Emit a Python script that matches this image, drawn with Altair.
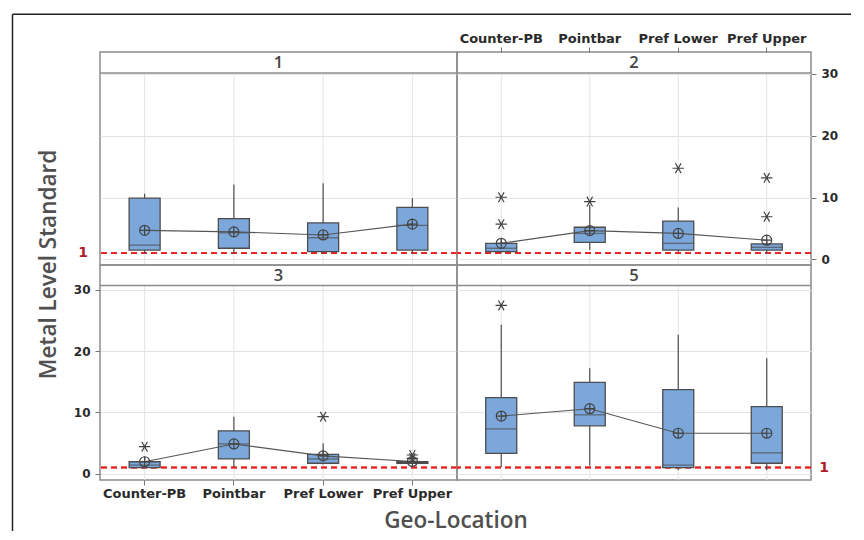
import altair as alt
import pandas as pd

categories = ["Counter-PB", "Pointbar", "Pref Lower", "Pref Upper"]
panel_ids = ["1", "2", "3", "5"]

# box statistics per panel, aligned with categories
whisker_low = {"1": [0.9, 0.9, 0.9, 0.9], "2": [1.0, 1.5, 1.2, 0.9],
               "3": [1.0, 1.1, 1.5, 1.6], "5": [1.1, 1.3, 0.6, 0.6]}
q1 = {"1": [1.5, 1.8, 1.25, 1.5], "2": [1.25, 2.75, 1.5, 1.5],
      "3": [1.0, 2.4, 1.7, 1.7], "5": [3.3, 7.8, 1.0, 1.7]}
median = {"1": [2.3, 4.3, 3.5, 5.5], "2": [1.8, 4.2, 2.6, 1.95],
          "3": [1.4, 4.85, 2.4, 1.8], "5": [7.3, 9.6, 1.4, 3.4]}
q3 = {"1": [9.9, 6.6, 5.9, 8.4], "2": [2.6, 5.2, 6.2, 2.5],
      "3": [1.95, 7.0, 3.15, 1.95], "5": [12.4, 14.9, 13.7, 10.95]}
whisker_high = {"1": [10.6, 12.1, 12.3, 9.9], "2": [3.0, 8.8, 8.4, 3.0],
                "3": [2.8, 9.3, 4.95, 2.0], "5": [24.3, 17.2, 22.65, 18.85]}
mean = {"1": [4.7, 4.45, 3.95, 5.7], "2": [2.6, 4.65, 4.2, 3.1],
        "3": [1.95, 4.85, 2.9, 2.0], "5": [9.4, 10.6, 6.6, 6.6]}

outlier_panel = ["2", "2", "2", "2", "2", "2", "3", "3", "3", "3", "5"]
outlier_cat = ["Counter-PB", "Counter-PB", "Pointbar", "Pref Lower", "Pref Upper", "Pref Upper",
               "Counter-PB", "Pref Lower", "Pref Upper", "Pref Upper", "Counter-PB"]
outlier_val = [10.05, 5.7, 9.35, 14.75, 13.2, 6.9, 4.4, 9.3, 3.05, 2.5, 27.45]

reference_value = 1
y_ticks = [0, 10, 20, 30]

BOX_FILL = "#7BA7DB"
DARK = "#4d4d4d"
GRID = "#e4e4e4"
BORDER = "#8c8c8c"
MEAN_PATH = "M-1,0A1,1,0,1,1,1,0A1,1,0,1,1,-1,0ZM-1,0L1,0M0,-1L0,1"
AST_PATH = "M-1,0L1,0M-0.5,-0.866L0.5,0.866M0.5,-0.866L-0.5,0.866"

LABEL_FONT = "DejaVu Sans"


def make_panel(pid, width, height, header, ydom, xorient=None, yorient=None, extras=None):
    stats = pd.DataFrame({
        "cat": categories,
        "lo": whisker_low[pid], "q1": q1[pid], "med": median[pid],
        "q3": q3[pid], "hi": whisker_high[pid], "mean": mean[pid],
    })
    outl = pd.DataFrame({"panel": outlier_panel, "cat": outlier_cat, "val": outlier_val})
    outl = outl[outl["panel"] == pid]

    xscale = alt.Scale(domain=categories, paddingInner=0, paddingOuter=0)
    if xorient:
        xaxis = alt.Axis(orient=xorient, labelAngle=0, domain=False, grid=False,
                         ticks=True, tickSize=5, tickColor="#777", labelPadding=2,
                         labelFont=LABEL_FONT, labelFontSize=13, labelFontWeight="bold",
                         labelColor="#2a2a2a", title=None)
    else:
        xaxis = None
    yscale = alt.Scale(domain=ydom, range=[height, header], nice=False, zero=False)
    if yorient:
        yaxis = alt.Axis(orient=yorient, values=y_ticks, domain=False, grid=True, gridColor=GRID,
                         ticks=True, tickSize=5, tickColor="#777", labelPadding=5,
                         labelFont=LABEL_FONT, labelFontSize=12, labelFontWeight="bold",
                         labelColor="#2a2a2a", title=None)
    else:
        yaxis = alt.Axis(values=y_ticks, domain=False, grid=True, gridColor=GRID,
                         ticks=False, labels=False, title=None)

    def X():
        return alt.X("cat:N", scale=xscale, axis=xaxis, title=None)

    def Y(field):
        return alt.Y(field, type="quantitative", scale=yscale, axis=yaxis, title=None)

    base = alt.Chart(stats)
    xgrid = base.mark_rule(color=GRID, strokeWidth=1).encode(
        x=X(), y=alt.value(header), y2=alt.value(height))
    ref = base.mark_rule(color="#e8201e", strokeDash=[6, 4], strokeWidth=1.6).encode(
        y=alt.Y(datum=reference_value, type="quantitative", scale=yscale, axis=yaxis, title=None))
    whisk = base.mark_rule(color=DARK, strokeWidth=1.2).encode(x=X(), y=Y("lo"), y2="hi")
    box = base.mark_bar(size=31, color=BOX_FILL, stroke=DARK, strokeWidth=1.3).encode(
        x=X(), y=Y("q1"), y2="q3")
    med = base.mark_tick(size=31, thickness=1.3, color=DARK).encode(x=X(), y=Y("med"))
    mline = base.mark_line(color="#555", strokeWidth=1.1).encode(x=X(), y=Y("mean"))
    mpt = base.mark_point(shape=MEAN_PATH, size=100, filled=False, color="#444",
                          strokeWidth=1.2, opacity=1).encode(x=X(), y=Y("mean"))
    layers = [xgrid, ref, whisk, box, med, mline, mpt]
    if len(outl):
        layers.append(alt.Chart(outl).mark_point(shape=AST_PATH, size=130, filled=False,
                                                 color="#444", strokeWidth=1.2, opacity=1)
                      .encode(x=X(), y=Y("val")))
    hdr = pd.DataFrame({"t": [pid]})
    layers.append(alt.Chart(hdr).mark_rule(color=BORDER, strokeWidth=1.5).encode(
        x=alt.value(0), x2=alt.value(width), y=alt.value(header)))
    layers.append(alt.Chart(hdr).mark_text(font="Open Sans", fontSize=16.5, fontWeight=600,
                                           color="#444", baseline="middle", align="center").encode(
        text="t:N", x=alt.value(width / 2), y=alt.value(header / 2 + 0.5)))
    if extras:
        layers.extend(extras(yscale, yaxis))
    return alt.layer(*layers).properties(width=width, height=height)


W1, W2 = 357, 354
H1, H2 = 213, 215
HD1, HD2 = 21, 20.5
DOM1 = [-0.91, 30.16]
DOM2 = [-1.03, 30.7]

deco = pd.DataFrame({"t": ["Metal Level Standard", "Geo-Location"]})
one = pd.DataFrame({"t": [str(reference_value)]})


def extras_p1(yscale, yaxis):
    return [
        alt.Chart(one).mark_rule(color="#222", strokeWidth=1.5).encode(
            x=alt.value(-87.5), x2=alt.value(751), y=alt.value(-37.7)),
        alt.Chart(one).mark_rule(color="#222", strokeWidth=1.5).encode(
            x=alt.value(-87.5), y=alt.value(-37.7), y2=alt.value(479)),
        alt.Chart(deco.iloc[[0]]).mark_text(font="Open Sans", fontSize=22.5, fontWeight=600,
                                            color="#505050",
                                            angle=270, align="center", baseline="middle").encode(
            text="t:N", x=alt.value(-51), y=alt.value(212.5)),
        alt.Chart(deco.iloc[[1]]).mark_text(font="Open Sans", fontSize=22.5, fontWeight=600,
                                            color="#505050",
                                            align="center", baseline="middle").encode(
            text="t:N", x=alt.value(356), y=alt.value(469)),
        alt.Chart(one).mark_text(font=LABEL_FONT, fontSize=14, fontWeight="bold", color="#b0202a",
                                 align="center", baseline="middle").encode(
            text="t:N", x=alt.value(-17),
            y=alt.Y(datum=reference_value, type="quantitative", scale=yscale, axis=yaxis, title=None)),
    ]


def extras_p5(yscale, yaxis):
    return [
        alt.Chart(one).mark_text(font=LABEL_FONT, fontSize=14, fontWeight="bold", color="#b0202a",
                                 align="center", baseline="middle").encode(
            text="t:N", x=alt.value(W2 + 13),
            y=alt.Y(datum=reference_value, type="quantitative", scale=yscale, axis=yaxis, title=None)),
    ]


p1 = make_panel("1", W1, H1, HD1, DOM1, extras=extras_p1)
p2 = make_panel("2", W2, H1, HD1, DOM1, xorient="top", yorient="right")
p3 = make_panel("3", W1, H2, HD2, DOM2, xorient="bottom", yorient="left")
p5 = make_panel("5", W2, H2, HD2, DOM2, extras=extras_p5)

chart = alt.concat(p1, p2, p3, p5, columns=2, spacing=0, bounds="flush").configure_view(
    stroke=BORDER, strokeWidth=1.5
).properties(padding={"left": 3, "top": 4, "right": 0, "bottom": 0}, background="white")

chart.save("out.html", embed_options={"renderer": "svg", "actions": False})
